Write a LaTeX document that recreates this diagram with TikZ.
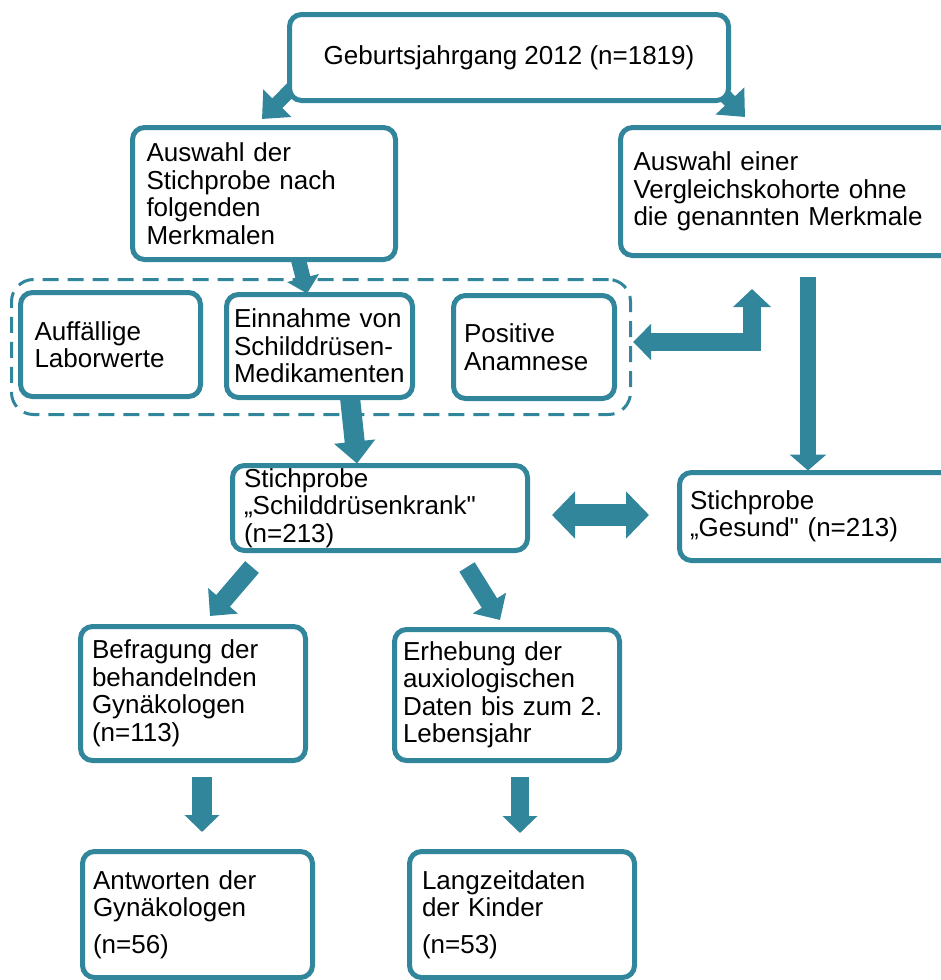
\documentclass[tikz,border=0pt]{standalone}
\usepackage{fontspec}
\setmainfont{Liberation Sans}
\usetikzlibrary{arrows.meta,backgrounds,calc}
\definecolor{flowteal}{RGB}{49,134,155}

\begin{document}
\begin{tikzpicture}[x=1pt,y=-1pt,
   box/.style={draw=flowteal,line width=5pt,rounded corners=12pt,fill=white,
      outer sep=0pt,inner ysep=2pt,align=left,
      font=\fontsize{26}{27.5}\selectfont},
   group/.style={draw=flowteal,line width=3pt,dash pattern=on 16pt off 9pt,
      rounded corners=22pt,outer sep=0pt},
   flow/.style={draw=flowteal,line width=20pt}]
\useasboundingbox (0,0) rectangle (941,980);
\node[group,minimum width=619pt,minimum height=135pt] (merkmale) at (321,347) {};
\node[box,align=center,minimum width=439pt,minimum height=86pt] (jahrgang) at (509,57.5)
   {Geburtsjahrgang 2012 (n=1819)};
\node[box,inner xsep=14pt,text width=235pt,minimum height=132pt] (auswahl) at (264,193.5)
   {Auswahl der\\Stichprobe nach\\folgenden\\Merkmalen};
\node[box,inner xsep=13pt,text width=316pt,minimum height=128pt] (vergleich) at (791.5,191.5)
   {Auswahl einer\\Vergleichskohorte ohne\\die genannten Merkmale};
\node[box,inner xsep=14pt,text width=152pt,minimum height=104pt] (labor) at (110.5,344.5)
   {Auffällige\\Laborwerte};
\node[box,inner xsep=7.5pt,text width=171pt,minimum height=103pt] (einnahme) at (319.5,346)
   {Einnahme von\\Schilddrüsen-\\Medikamenten};
\node[box,inner xsep=10.5pt,text width=140pt,minimum height=103pt] (anamnese) at (534,347)
   {Positive\\Anamnese};
\node[box,inner xsep=11.5pt,text width=272pt,minimum height=85pt] (krank) at (380,508)
   {Stichprobe\\„Schilddrüsenkrank\textquotedbl\\(n=213)};
\node[box,inner xsep=10.5pt,text width=321pt,minimum height=88pt] (gesund) at (850.5,516.5)
   {Stichprobe\\„Gesund\textquotedbl{} (n=213)};
\node[box,inner xsep=11.5pt,text width=202pt,minimum height=134pt] (befragung) at (193,693.5)
   {Befragung der\\behandelnden\\Gynäkologen\\(n=113)};
\node[box,inner xsep=8.5pt,text width=208pt,minimum height=131pt] (erhebung) at (507,695)
   {Erhebung der\\auxiologischen\\Daten bis zum 2.\\Lebensjahr};
\node[box,inner xsep=10.5pt,text width=209pt,minimum height=126pt] (antworten) at (197.5,914.5)
   {Antworten der\\Gynäkologen\\[9pt](n=56)};
\node[box,inner xsep=12.5pt,text width=200pt,minimum height=126pt] (langzeit) at (522,914.5)
   {Langzeitdaten\\der Kinder\\[9pt](n=53)};
\begin{scope}[on background layer]
\draw[flow,line width=14pt,-{Triangle[length=22pt,width=38pt]}]
   ($(jahrgang.south west)+(10.5,-20.5)$) -- ($(auswahl.north)+(-2,-8.5)$);
\draw[flow,line width=14pt,-{Triangle[length=22pt,width=38pt]}]
   ($(jahrgang.south east)+(-16.5,-18.5)$) -- ($(vergleich.north west)+(124.5,-10.5)$);
\draw[flow,line width=15pt,-{Triangle[length=16pt,width=32pt]}]
   ($(auswahl.south)+(34,-1.5)$) -- ($(einnahme.north)+(-12.5,-1)$);
\draw[flow,-{Triangle[length=22pt,width=40pt]}]
   ($(einnahme.south)+(30.5,0)$) -- ($(krank.north)+(-23,-2)$);
\draw[flow,line width=16pt,-{Triangle[length=16pt,width=36pt]}]
   ($(vergleich.south)+(16.5,21.5)$) -- ($(gesund.north west)+(128.5,-2)$);
\draw[flow,line width=18pt,{Triangle[length=18pt,width=37pt]}-{Triangle[length=18pt,width=35pt]}]
   ($(vergleich.south west)+(131.5,33.5)$) |- ($(anamnese.east)+(18.5,-5)$);
\draw[flow,line width=22pt,{Triangle[length=23pt,width=46pt]}-{Triangle[length=23pt,width=46pt]}]
   ($(krank.east)+(24.5,7)$) -- ($(gesund.west)+(-30.5,-1.5)$);
\draw[flow,line width=18pt,-{Triangle[length=20pt,width=38pt]}]
   ($(krank.south west)+(19.5,16.5)$) -- ($(befragung.north)+(17,-10.5)$);
\draw[flow,line width=18pt,-{Triangle[length=20pt,width=38pt]}]
   ($(krank.south)+(87,16.5)$) -- ($(erhebung.north)+(-7,-9.5)$);
\draw[flow,-{Triangle[length=17pt,width=34pt]}]
   ($(befragung.south)+(9,16.5)$) -- ($(antworten.north)+(4.5,-19.5)$);
\draw[flow,line width=18pt,-{Triangle[length=17pt,width=34pt]}]
   ($(erhebung.south)+(13,16.5)$) -- ($(langzeit.north)+(-2,-18.5)$);
\end{scope}
\end{tikzpicture}
\end{document}
